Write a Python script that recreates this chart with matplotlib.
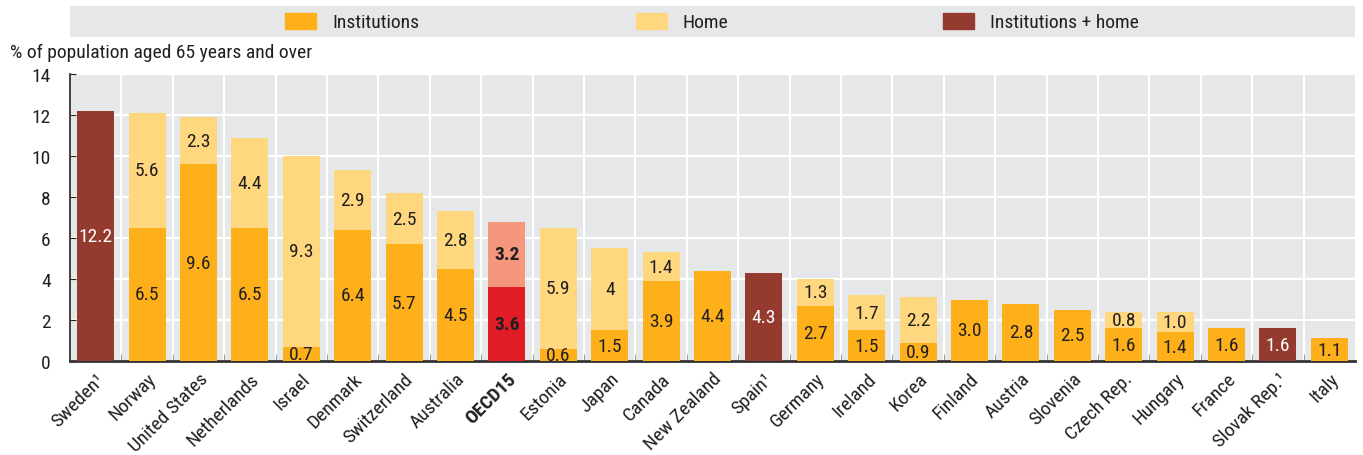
import matplotlib
matplotlib.use('Agg')
import matplotlib.pyplot as plt
import numpy as np
from matplotlib import font_manager
from matplotlib.patches import Rectangle

# Data
countries = ['Sweden¹', 'Norway', 'United States', 'Netherlands', 'Israel', 'Denmark',
             'Switzerland', 'Australia', 'OECD15', 'Estonia', 'Japan', 'Canada',
             'New Zealand', 'Spain¹', 'Germany', 'Ireland', 'Korea', 'Finland',
             'Austria', 'Slovenia', 'Czech Rep.', 'Hungary', 'France', 'Slovak Rep.¹', 'Italy']
institutions = [0, 6.5, 9.6, 6.5, 0.7, 6.4, 5.7, 4.5, 3.6, 0.6, 1.5, 3.9,
                4.4, 0, 2.7, 1.5, 0.9, 3.0, 2.8, 2.5, 1.6, 1.4, 1.6, 0, 1.1]
home = [0, 5.6, 2.3, 4.4, 9.3, 2.9, 2.5, 2.8, 3.2, 5.9, 4.0, 1.4,
        0, 0, 1.3, 1.7, 2.2, 0, 0, 0, 0.8, 1.0, 0, 0, 0]
home_labels = ['', '5.6', '2.3', '4.4', '9.3', '2.9', '2.5', '2.8', '3.2', '5.9', '4', '1.4',
               '', '', '1.3', '1.7', '2.2', '', '', '', '0.8', '1.0', '', '', '']
combined = [12.2, 0, 0, 0, 0, 0, 0, 0, 0, 0, 0, 0,
            0, 4.3, 0, 0, 0, 0, 0, 0, 0, 0, 0, 1.6, 0]
legend_labels = ['Institutions', 'Home', 'Institutions + home']

C_INST = '#fdb01a'
C_HOME = '#fed77e'
C_COMB = '#943a2e'
C_OECD_INST = '#e01d26'
C_OECD_HOME = '#f4977c'
BG = '#e6e7e8'
TXT = '#231f20'

# condensed look if available, else Arial-like
names = {f.name for f in font_manager.fontManager.ttflist}
fam = [n for n in ['Roboto Condensed', 'Liberation Sans Narrow', 'Liberation Sans'] if n in names][:1]
plt.rcParams['font.family'] = fam + ['DejaVu Sans']
FS = 14

fig = plt.figure(figsize=(13.63, 4.56), dpi=100)
W, H = 1363, 456
ax = fig.add_axes([70 / W, 1 - 362 / H, (1355 - 70) / W, (362 - 75) / H])
ax.set_facecolor(BG)

x = np.arange(len(countries))
bw = 0.72
oecd = countries.index('OECD15')
inst_colors = [C_OECD_INST if i == oecd else C_INST for i in x]
home_colors = [C_OECD_HOME if i == oecd else C_HOME for i in x]

ax.bar(x, institutions, bw, color=inst_colors, zorder=3)
ax.bar(x, home, bw, bottom=institutions, color=home_colors, zorder=3)
ax.bar(x, combined, bw, color=C_COMB, zorder=3)

for i in x:
    weight = 'bold' if i == oecd else 'normal'
    if institutions[i] > 0:
        ax.text(i, institutions[i] / 2, f"{institutions[i]:.1f}", ha='center', va='center',
                color=TXT, fontsize=FS, weight=weight, zorder=4)
    if home[i] > 0:
        ax.text(i, institutions[i] + home[i] / 2, home_labels[i], ha='center', va='center',
                color=TXT, fontsize=FS, weight=weight, zorder=4)
    if combined[i] > 0:
        ax.text(i, combined[i] / 2, f"{combined[i]:.1f}", ha='center', va='center',
                color='white', fontsize=FS, zorder=4)

ax.set_xlim(-0.5, len(countries) - 0.5)
ax.set_ylim(0, 14)
ax.set_yticks(np.arange(0, 15, 2))
ax.set_xticks(x)
ax.set_xticklabels(countries, rotation=45, ha='right', rotation_mode='anchor')
ax.set_xticks(x[:-1] + 0.5, minor=True)
for lbl in ax.get_xticklabels():
    if lbl.get_text() == 'OECD15':
        lbl.set_fontweight('bold')
ax.tick_params(axis='x', which='major', length=0, pad=6, labelsize=FS, colors=TXT)
ax.tick_params(axis='x', which='minor', length=5, direction='in', color='#888888')
ax.tick_params(axis='y', length=4, direction='in', labelsize=FS, colors=TXT, pad=14)

ax.grid(True, which='minor', axis='x', color='white', linewidth=1.5, zorder=0)
ax.grid(True, which='major', axis='y', color='white', linewidth=1.5, zorder=0)
ax.set_axisbelow(True)

for s in ['top', 'right']:
    ax.spines[s].set_visible(False)
ax.spines['left'].set_color('#333333')
ax.spines['left'].set_linewidth(1.3)
ax.spines['bottom'].set_color('#333333')
ax.spines['bottom'].set_linewidth(2)

fig.text(10 / W, 1 - 53 / H, '% of population aged 65 years and over', ha='left', va='center',
         fontsize=FS, color=TXT)

# Legend band, laid out in pixel coordinates
lax = fig.add_axes([70 / W, 1 - 38 / H, (1355 - 70) / W, 31 / H])
lax.set_facecolor(BG)
lax.set_xlim(70, 1355)
lax.set_ylim(38, 7)
lax.set_xticks([])
lax.set_yticks([])
for s in lax.spines.values():
    s.set_visible(False)
for px, col, lab in zip([285, 636, 943], [C_INST, C_HOME, C_COMB], legend_labels):
    lax.add_patch(Rectangle((px, 14), 31, 16, color=col))
    lax.text(px + 47, 22.5, lab, ha='left', va='center', fontsize=FS, color=TXT)

fig.savefig('out.png', dpi=100)
